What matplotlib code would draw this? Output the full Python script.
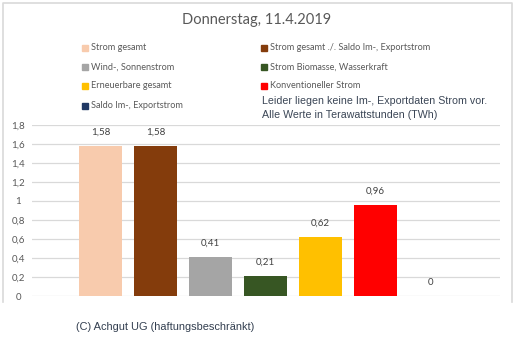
import matplotlib
matplotlib.use("Agg")
import matplotlib.pyplot as plt
from matplotlib.lines import Line2D
from matplotlib.patches import Rectangle

categories = ["Strom gesamt", "Strom gesamt ./. Saldo Im-, Exportstrom",
              "Wind-, Sonnenstrom", "Strom Biomasse, Wasserkraft",
              "Erneuerbare gesamt", "Konventioneller Strom",
              "Saldo Im-, Exportstrom"]
values = [1.58, 1.58, 0.41, 0.21, 0.62, 0.96, 0.0]
value_labels = ["1,58", "1,58", "0,41", "0,21", "0,62", "0,96", "0"]
colors = ["#F8CBAD", "#843C0C", "#A5A5A5", "#375623", "#FFC000", "#FF0000", "#203864"]
yticks = [0, 0.2, 0.4, 0.6, 0.8, 1.0, 1.2, 1.4, 1.6, 1.8]
ytick_labels = ["0", "0,2", "0,4", "0,6", "0,8", "1", "1,2", "1,4", "1,6", "1,8"]
title = "Donnerstag, 11.4.2019"
note = ["Leider liegen keine Im-, Exportdaten Strom vor.",
        "Alle Werte in Terawattstunden (TWh)"]
copyright_text = "(C) Achgut UG (haftungsbeschränkt)"

W, H = 515, 344
fig = plt.figure(figsize=(W / 100, H / 100), dpi=100)

def fx(px):
    return px / W

def fy(py):
    return 1 - py / H

# frame (left, top, right)
fig.add_artist(Line2D([fx(2.5), fx(2.5), fx(511.5), fx(511.5)],
                      [fy(302), fy(2.5), fy(2.5), fy(302)],
                      color="#D9D9D9", lw=1.2, transform=fig.transFigure))

# plot area: x from 32 to 500 px, y 0 at 296, 1.8 at 125
left, right = 32, 500
y0px, y18px = 296, 125
ax = fig.add_axes([fx(left), fy(y0px), (right - left) / W, (y0px - y18px) / H])
ax.set_ylim(0, 1.8)
# bar centers at 100.5 + 55*i px
ax.set_xlim((left - 100.5) / 55, (right - 100.5) / 55)
x = list(range(len(values)))
ax.bar(x, values, width=43 / 55, color=colors, zorder=3)
for xi, v, lab in zip(x, values, value_labels):
    ax.annotate(lab, (xi, v), xytext=(0, 6.5), textcoords="offset points",
                ha="center", va="bottom", fontsize=7, color="#404040",
                family="Lato")
ax.set_yticks(yticks)
ax.set_yticklabels(ytick_labels, fontsize=7, color="#595959", family="Lato")
for t in ax.get_yticklabels():
    t.set_horizontalalignment("center")
ax.tick_params(axis="y", length=0, pad=10)
ax.set_xticks([])
ax.grid(axis="y", color="#D9D9D9", lw=0.9, zorder=0)
for s in ax.spines.values():
    s.set_visible(False)

fig.text(fx(257), fy(20), title, ha="center", va="center", fontsize=10.5,
         color="#595959", family="Lato")

# legend
col_x = [82, 261]
row_y = [48, 67, 86, 106]
positions = [(0, 0), (1, 0), (0, 1), (1, 1), (0, 2), (1, 2), (0, 3)]
for (c, r), cat, col in zip(positions, categories, colors):
    fig.add_artist(Rectangle((fx(col_x[c]), fy(row_y[r] + 3)), 6 / W, 6 / H,
                             color=col, transform=fig.transFigure))
    fig.text(fx(col_x[c] + 9), fy(row_y[r]), cat, ha="left", va="center",
             fontsize=6.6, color="#595959", family="Lato")

fig.text(fx(262), fy(101), note[0], ha="left", va="center", fontsize=7.7,
         color="#3B4656", family="Liberation Sans")
fig.text(fx(262), fy(115), note[1], ha="left", va="center", fontsize=7.7,
         color="#3B4656", family="Liberation Sans")

fig.text(fx(76), fy(327), copyright_text, ha="left", va="center", fontsize=7.9,
         color="#333F50", family="Liberation Sans")

fig.savefig("out.png", dpi=100)
